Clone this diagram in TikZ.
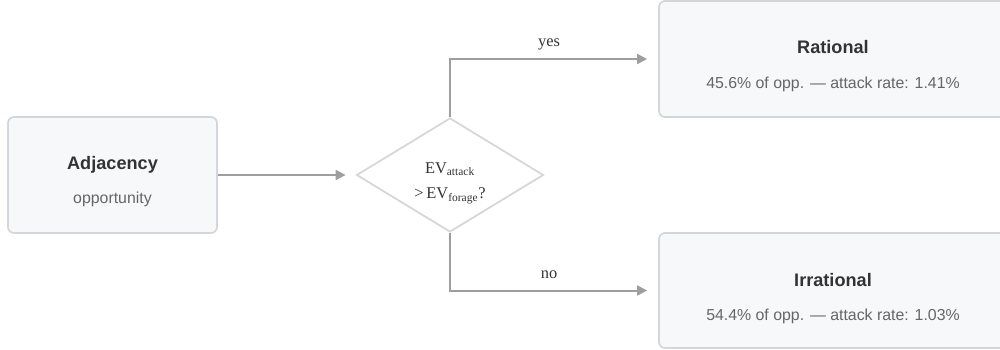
\documentclass[tikz,border=0pt]{standalone}
\usepackage{fontspec}
\setmainfont{Liberation Serif}
\setsansfont{Liberation Sans}
\usetikzlibrary{shapes.geometric,arrows.meta}

\definecolor{boxfill}{HTML}{F7F8FA}
\definecolor{boxline}{HTML}{D3D6DA}
\definecolor{arrowgray}{HTML}{9E9E9E}
\definecolor{titlecol}{HTML}{333333}
\definecolor{subcol}{HTML}{666666}
\definecolor{diamline}{HTML}{D6D6D6}

\tikzset{
  card/.style={draw=boxline, line width=1.3pt, fill=boxfill, rounded corners=4.5pt,
               inner sep=0pt, rectangle},
  cardtitle/.style={anchor=base, font=\sffamily\bfseries\fontsize{13.6}{16}\selectfont, text=titlecol},
  cardsub/.style={anchor=base, font=\sffamily\fontsize{11.9}{14}\selectfont, text=subcol},
  decision/.style={diamond, draw=diamline, line width=1.3pt, fill=white, inner sep=0pt,
                   minimum width=140.25pt, minimum height=85.5pt},
  serifline/.style={anchor=base, font=\rmfamily\fontsize{12.3}{14}\selectfont, text=titlecol},
  flow/.style={draw=arrowgray, line width=1.5pt,
               -{Triangle[length=7.5pt,width=7.5pt]}},
}

\begin{document}
\begin{tikzpicture}[x=0.75pt,y=-0.75pt]
  \useasboundingbox (0,0) rectangle (1000,350);
  \begin{scope}
    \clip (0,0) rectangle (1000,350);

    % start card
    \node[card, minimum width=156.75pt, minimum height=87pt] (adj) at (112.5,175) {};
    \node[cardtitle] (adjT) at (112.5,169.5) {Adjacency};
    \node[cardsub] (adjS) at (112.5,203.5) {opportunity};

    % decision
    \node[decision] (dia) at (450,175) {};
    \node[serifline] (diaA) at (450,173.5) {EV\textsubscript{attack}};
    \node[serifline] (diaB) at (450,198.5) {>\,EV\textsubscript{forage}?};

    % outcome cards
    \node[card, minimum width=261pt, minimum height=87pt] (rat) at (833,59) {};
    \node[cardtitle] (ratT) at (833,53.5) {Rational};
    \node[cardsub] (ratS) at (833,88.5) {45.6\% of opp. — attack rate: 1.41\%};

    \node[card, minimum width=261pt, minimum height=86.25pt] (irr) at (833,290.5) {};
    \node[cardtitle] (irrT) at (833,286.5) {Irrational};
    \node[cardsub] (irrS) at (833,320.5) {54.4\% of opp. — attack rate: 1.03\%};

    % connectors
    \draw[flow, shorten >=7.5pt] (adj.east) -- (dia.west);
    \draw[flow, shorten >=8.25pt] (dia.north) |- (rat.west);
    \draw[flow, shorten >=8.25pt] (dia.south) |- (irr.west);

    % branch labels
    \node[serifline] (yes) at (549,46.5) {yes};
    \node[serifline] (no) at (549,278.5) {no};
  \end{scope}
\end{tikzpicture}
\end{document}
